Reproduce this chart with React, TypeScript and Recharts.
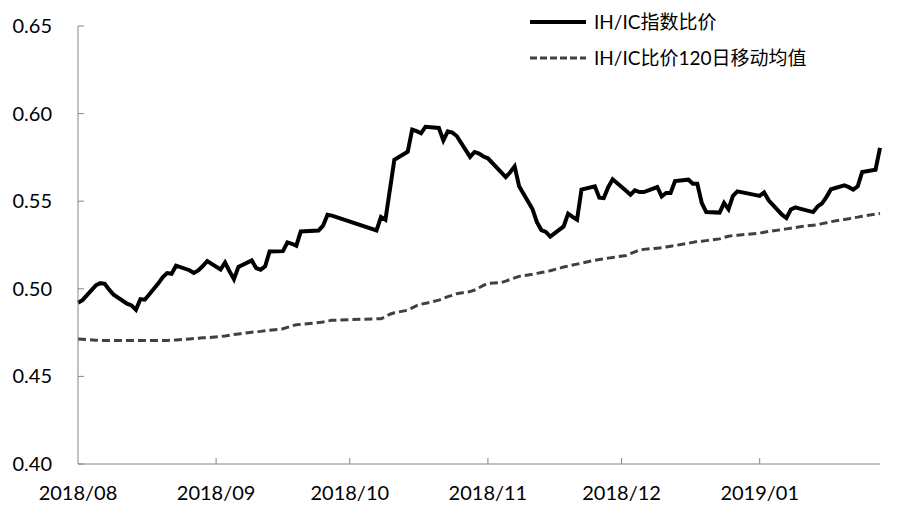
import { LineChart, Line, XAxis, YAxis } from 'recharts';

// trading days (date axis, connected across weekends / holidays)
const dates = [
  '2018-08-02', '2018-08-03', '2018-08-06', '2018-08-07', '2018-08-08', '2018-08-09', '2018-08-10',
  '2018-08-13', '2018-08-14', '2018-08-15', '2018-08-16', '2018-08-17', '2018-08-20', '2018-08-21',
  '2018-08-22', '2018-08-23', '2018-08-24', '2018-08-27', '2018-08-28', '2018-08-29', '2018-08-30',
  '2018-08-31',
  '2018-09-03', '2018-09-04', '2018-09-05', '2018-09-06', '2018-09-07', '2018-09-10', '2018-09-11',
  '2018-09-12', '2018-09-13', '2018-09-14', '2018-09-17', '2018-09-18', '2018-09-19', '2018-09-20',
  '2018-09-21', '2018-09-25', '2018-09-26', '2018-09-27', '2018-09-28',
  '2018-10-08', '2018-10-09', '2018-10-10', '2018-10-11', '2018-10-12', '2018-10-15', '2018-10-16',
  '2018-10-17', '2018-10-18', '2018-10-19', '2018-10-22', '2018-10-23', '2018-10-24', '2018-10-25',
  '2018-10-26', '2018-10-29', '2018-10-30', '2018-10-31',
  '2018-11-01', '2018-11-02', '2018-11-05', '2018-11-06', '2018-11-07', '2018-11-08', '2018-11-09',
  '2018-11-12', '2018-11-13', '2018-11-14', '2018-11-15', '2018-11-16', '2018-11-19', '2018-11-20',
  '2018-11-21', '2018-11-22', '2018-11-23', '2018-11-26', '2018-11-27', '2018-11-28', '2018-11-29',
  '2018-11-30',
  '2018-12-03', '2018-12-04', '2018-12-05', '2018-12-06', '2018-12-07', '2018-12-10', '2018-12-11',
  '2018-12-12', '2018-12-13', '2018-12-14', '2018-12-17', '2018-12-18', '2018-12-19', '2018-12-20',
  '2018-12-21', '2018-12-24', '2018-12-25', '2018-12-26', '2018-12-27', '2018-12-28',
  '2019-01-02', '2019-01-03', '2019-01-04', '2019-01-07', '2019-01-08', '2019-01-09', '2019-01-10',
  '2019-01-11', '2019-01-14', '2019-01-15', '2019-01-16', '2019-01-17', '2019-01-18', '2019-01-21',
  '2019-01-22', '2019-01-23', '2019-01-24', '2019-01-25', '2019-01-28', '2019-01-29',
];

// IH/IC指数比价
const ratio = [
  0.4920, 0.4935, 0.5020, 0.5032, 0.5028, 0.4995, 0.4966, 0.4915, 0.4905, 0.4880, 0.4941,
  0.4938, 0.5030, 0.5066, 0.5090, 0.5086, 0.5132, 0.5106, 0.5090, 0.5105, 0.5130, 0.5158,
  0.5110, 0.5150, 0.5100, 0.5055, 0.5125, 0.5162, 0.5118, 0.5109, 0.5128, 0.5213, 0.5215,
  0.5265, 0.5257, 0.5246, 0.5327, 0.5333, 0.5360, 0.5423, 0.5418,
  0.5333, 0.5410, 0.5394, 0.5565, 0.5737, 0.5782, 0.5909, 0.5900, 0.5888, 0.5925, 0.5918,
  0.5847, 0.5899, 0.5892, 0.5872, 0.5753, 0.5781, 0.5772,
  0.5755, 0.5745, 0.5665, 0.5638, 0.5665, 0.5699, 0.5585, 0.5455, 0.5380, 0.5335, 0.5325,
  0.5298, 0.5356, 0.5429, 0.5410, 0.5394, 0.5566, 0.5585, 0.5520, 0.5518, 0.5580, 0.5625,
  0.5560, 0.5537, 0.5562, 0.5552, 0.5552, 0.5581, 0.5527, 0.5547, 0.5547, 0.5615, 0.5623,
  0.5600, 0.5600, 0.5490, 0.5438, 0.5435, 0.5490, 0.5455, 0.5530, 0.5556,
  0.5530, 0.5550, 0.5505, 0.5423, 0.5404, 0.5453, 0.5465, 0.5458, 0.5438, 0.5470, 0.5488,
  0.5525, 0.5568, 0.5590, 0.5580, 0.5566, 0.5585, 0.5667, 0.5680, 0.5804,
];

// IH/IC比价120日移动均值
const ma120 = [
  0.4714, 0.4712, 0.4707, 0.4705, 0.4705, 0.4705, 0.4705, 0.4705, 0.4705, 0.4705, 0.4705,
  0.4705, 0.4705, 0.4705, 0.4705, 0.4706, 0.4708, 0.4714, 0.4716, 0.4718, 0.4720, 0.4721,
  0.4728, 0.4731, 0.4735, 0.4739, 0.4742, 0.4752, 0.4755, 0.4757, 0.4760, 0.4763, 0.4772,
  0.4780, 0.4788, 0.4795, 0.4797, 0.4807, 0.4811, 0.4816, 0.4820,
  0.4829, 0.4829, 0.4841, 0.4855, 0.4863, 0.4878, 0.4891, 0.4904, 0.4912, 0.4917, 0.4935,
  0.4945, 0.4955, 0.4963, 0.4972, 0.4984, 0.4993, 0.5006,
  0.5019, 0.5031, 0.5036, 0.5044, 0.5053, 0.5062, 0.5071, 0.5083, 0.5088, 0.5093, 0.5098,
  0.5103, 0.5124, 0.5130, 0.5136, 0.5141, 0.5146, 0.5163, 0.5167, 0.5171, 0.5175, 0.5179,
  0.5190, 0.5201, 0.5211, 0.5221, 0.5225, 0.5232, 0.5234, 0.5239, 0.5243, 0.5247, 0.5260,
  0.5265, 0.5270, 0.5272, 0.5275, 0.5285, 0.5293, 0.5300, 0.5304, 0.5306,
  0.5317, 0.5323, 0.5327, 0.5338, 0.5342, 0.5346, 0.5350, 0.5354, 0.5363, 0.5366, 0.5372,
  0.5377, 0.5383, 0.5396, 0.5400, 0.5405, 0.5409, 0.5414, 0.5426, 0.5430,
];

const monthTickDates = ['2018-08-02', '2018-09-02', '2018-10-02', '2018-11-02', '2018-12-02', '2019-01-02'];
const monthLabels = ['2018/08', '2018/09', '2018/10', '2018/11', '2018/12', '2019/01'];
const yTicks = [0.4, 0.45, 0.5, 0.55, 0.6, 0.65];

const FONT = "Lato, 'Noto Sans CJK SC', sans-serif";
const AXIS = '#868686';

const start = Date.parse(dates[0] + 'T00:00:00Z');
const dayOf = (d: string) => Math.round((Date.parse(d + 'T00:00:00Z') - start) / 86400000);

const chartData = dates.map((d, i) => ({ day: dayOf(d), ratio: ratio[i], ma: ma120[i] }));
const monthTicks = monthTickDates.map(dayOf);

const XTick = (props: any) => {
  const { x, y, payload } = props;
  const idx = monthTicks.indexOf(payload.value);
  return (
    <g>
      {idx > 0 && <line x1={x} x2={x} y1={y} y2={y - 6} stroke={AXIS} strokeWidth={1} />}
      <text x={x} y={y + 36} textAnchor="middle" fontSize={20} fontFamily={FONT} fill="#000">
        {monthLabels[idx]}
      </text>
    </g>
  );
};

const YTick = (props: any) => {
  const { x, y, payload } = props;
  return (
    <g>
      <line x1={x} x2={x + 6} y1={y} y2={y} stroke={AXIS} strokeWidth={1} />
      <text x={x - 26} y={y + 7} textAnchor="end" fontSize={20} fontFamily={FONT} fill="#000">
        {Number(payload.value).toFixed(2)}
      </text>
    </g>
  );
};

const LegendBox = () => (
  <div
    style={{
      position: 'absolute',
      left: 528,
      top: 4,
      fontFamily: FONT,
      fontSize: 19,
      color: '#000',
      lineHeight: '36px',
      whiteSpace: 'nowrap',
    }}
  >
    <div style={{ display: 'flex', alignItems: 'center' }}>
      <svg width={60} height={10}>
        <line x1={2} x2={58} y1={5} y2={5} stroke="#000" strokeWidth={4} />
      </svg>
      <span style={{ marginLeft: 6 }}>IH/IC指数比价</span>
    </div>
    <div style={{ display: 'flex', alignItems: 'center' }}>
      <svg width={60} height={10}>
        <line x1={2} x2={58} y1={5} y2={5} stroke="#404040" strokeWidth={3} strokeDasharray="7 3" />
      </svg>
      <span style={{ marginLeft: 6 }}>IH/IC比价120日移动均值</span>
    </div>
  </div>
);

export default function App() {
  return (
    <div style={{ position: 'absolute', left: 0, top: 0, width: 900, height: 515, background: '#fff' }}>
      <LineChart width={900} height={515} data={chartData} margin={{ top: 26, right: 20, left: 0, bottom: 0 }}>
        <XAxis
          dataKey="day"
          type="number"
          domain={[0, 180]}
          ticks={monthTicks}
          interval={0}
          height={51}
          stroke={AXIS}
          tickLine={false}
          tickSize={0}
          tickMargin={0}
          tick={<XTick />}
        />
        <YAxis
          domain={[0.4, 0.65]}
          ticks={yTicks}
          interval={0}
          width={78}
          stroke={AXIS}
          tickLine={false}
          tickSize={0}
          tickMargin={0}
          tick={<YTick />}
        />
        <Line
          type="linear"
          dataKey="ma"
          stroke="#404040"
          strokeWidth={3}
          strokeDasharray="8 4"
          dot={false}
          isAnimationActive={false}
        />
        <Line
          type="linear"
          dataKey="ratio"
          stroke="#000"
          strokeWidth={4}
          dot={false}
          isAnimationActive={false}
        />
      </LineChart>
      <LegendBox />
    </div>
  );
}
